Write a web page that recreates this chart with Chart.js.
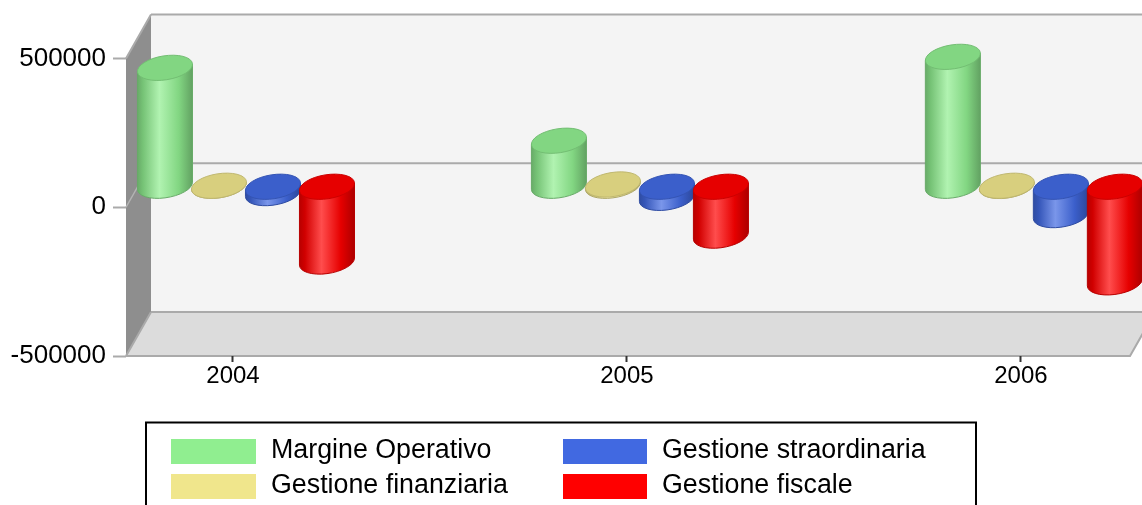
<!DOCTYPE html>
<html><head><meta charset="utf-8">
<style>html,body{margin:0;padding:0;background:#fff;overflow:hidden}canvas{display:block}</style>
<script src="https://cdn.jsdelivr.net/npm/chart.js@4"></script></head>
<body><canvas id="c" width="1142" height="505"></canvas>
<script>
const years = [2004, 2005, 2006];
const yTicks = [-500000, 0, 500000];
const margineOperativo = [398000, 153000, 435000];
const gestioneFinanziaria = [1500, 6000, 1000];
const gestioneStraordinaria = [-23000, -39000, -97000];
const gestioneFiscale = [-253000, -166000, -323000];
const seriesNames = ['Margine Operativo', 'Gestione finanziaria', 'Gestione straordinaria', 'Gestione fiscale'];
const seriesColors = ['#90EE90', '#F0E68C', '#4169E1', '#FF0000'];
const seriesValues = [margineOperativo, gestioneFinanziaria, gestioneStraordinaria, gestioneFiscale];

const DEPTH_X = 25, DEPTH_Y = 44;   // wall depth
const BAR_DX = 13, BAR_DY = -21;    // bars stand mid-depth
const RX = 27.8, RY = 12, TILT = -9*Math.PI/180;
const FONT = '"Liberation Sans", Arial, sans-serif';

function rgb(h){return [1,3,5].map(i=>parseInt(h.substr(i,2),16));}
function shade(h,f){return 'rgb('+rgb(h).map(v=>Math.round(v*f)).join(',')+')';}
function tint(h,f){return 'rgb('+rgb(h).map(v=>Math.round(v+(255-v)*f)).join(',')+')';}

function ellipse(ctx,x,y){ctx.beginPath();ctx.ellipse(x,y,RX,RY,TILT,0,Math.PI*2);}

function cylinder(ctx,bar,color){
  const x=bar.x+BAR_DX, a=Math.min(bar.y,bar.base)+BAR_DY, b=Math.max(bar.y,bar.base)+BAR_DY;
  const tR=Math.atan2(-RY*Math.sin(TILT),RX*Math.cos(TILT));
  const w=RX*Math.cos(tR)*Math.cos(TILT)-RY*Math.sin(tR)*Math.sin(TILT);
  const h=RX*Math.cos(tR)*Math.sin(TILT)+RY*Math.sin(tR)*Math.cos(TILT);
  const g=ctx.createLinearGradient(x-w,0,x+w,0);
  g.addColorStop(0,shade(color,.72));
  g.addColorStop(.1,shade(color,.82));
  g.addColorStop(.4,tint(color,.3));
  g.addColorStop(.75,shade(color,.9));
  g.addColorStop(1,shade(color,.68));
  ctx.beginPath();
  ctx.moveTo(x+w,a+h);
  ctx.lineTo(x+w,b+h);
  ctx.ellipse(x,b,RX,RY,TILT,tR,tR+Math.PI);
  ctx.lineTo(x-w,a-h);
  ctx.closePath();
  ctx.fillStyle=g;ctx.fill();
  ctx.strokeStyle=shade(color,.72);ctx.lineWidth=1;ctx.stroke();
  ellipse(ctx,x,a);
  ctx.fillStyle=shade(color,.9);ctx.fill();
  ctx.strokeStyle=shade(color,.8);ctx.stroke();
}

const scene = {
  id:'scene',
  beforeDraw(chart){
    const {ctx,chartArea:ca,scales:{y}}=chart, l=ca.left, r=ca.right, t=ca.top, b=ca.bottom;
    ctx.save();
    ctx.fillStyle='#f4f4f4';ctx.fillRect(l+DEPTH_X,t-DEPTH_Y,r-l,b-t);
    ctx.fillStyle='#8e8e8e';ctx.beginPath();ctx.moveTo(l,t);ctx.lineTo(l+DEPTH_X,t-DEPTH_Y);ctx.lineTo(l+DEPTH_X,b-DEPTH_Y);ctx.lineTo(l,b);ctx.closePath();ctx.fill();
    ctx.fillStyle='#dcdcdc';ctx.beginPath();ctx.moveTo(l,b);ctx.lineTo(l+DEPTH_X,b-DEPTH_Y);ctx.lineTo(r+DEPTH_X,b-DEPTH_Y);ctx.lineTo(r,b);ctx.closePath();ctx.fill();
    ctx.strokeStyle='#aaaaaa';ctx.lineWidth=2;
    const z=y.getPixelForValue(0);
    ctx.beginPath();
    ctx.moveTo(l+DEPTH_X,t-DEPTH_Y);ctx.lineTo(r+DEPTH_X,t-DEPTH_Y);
    ctx.moveTo(l+DEPTH_X,z-DEPTH_Y);ctx.lineTo(r+DEPTH_X,z-DEPTH_Y);
    ctx.moveTo(l+DEPTH_X,b-DEPTH_Y);ctx.lineTo(r+DEPTH_X,b-DEPTH_Y);
    ctx.moveTo(l,b);ctx.lineTo(r,b);ctx.lineTo(r+DEPTH_X,b-DEPTH_Y);
    ctx.moveTo(l,b);ctx.lineTo(l+DEPTH_X,b-DEPTH_Y);
    ctx.moveTo(l,t);ctx.lineTo(l+DEPTH_X,t-DEPTH_Y);
    ctx.stroke();
    ctx.strokeStyle='#b4b4b4';ctx.lineWidth=1.5;
    ctx.beginPath();ctx.moveTo(l,z);ctx.lineTo(l+DEPTH_X,z-DEPTH_Y);ctx.stroke();
    ctx.restore();
  },
  beforeDatasetsDraw(chart){
    const ctx=chart.ctx;ctx.save();
    chart.data.datasets.forEach((ds,i)=>{
      chart.getDatasetMeta(i).data.forEach(bar=>cylinder(ctx,bar,seriesColors[i]));
    });
    ctx.restore();
  },
  beforeDatasetDraw(){return false;},
  afterDraw(chart){
    const ctx=chart.ctx;ctx.save();
    ctx.strokeStyle='#000';ctx.lineWidth=2;
    ctx.strokeRect(146,422.5,830,100);
    const cols=[171,563], rows=[439,474];
    ctx.font='26.8px '+FONT;ctx.textBaseline='middle';ctx.textAlign='left';
    chart.data.datasets.forEach((ds,i)=>{
      const c=Math.floor(i/2), r=i%2, sx=cols[c], sy=rows[r];
      ctx.fillStyle=ds.backgroundColor;ctx.fillRect(sx,sy,c?84:85,25);
      ctx.fillStyle='#000';ctx.fillText(ds.label,sx+(c?99:100),sy+11.5);
    });
    ctx.restore();
  }
};

new Chart(document.getElementById('c'),{
  type:'bar',
  data:{datasets:seriesNames.map((label,i)=>({
    label,backgroundColor:seriesColors[i],barThickness:54,
    data:years.map((x,j)=>({x,y:seriesValues[i][j]}))
  }))},
  options:{
    responsive:false,animation:false,devicePixelRatio:1,
    layout:{padding:{top:58.5,right:12,left:0,bottom:0}},
    plugins:{legend:{display:false},tooltip:{enabled:false},title:{display:false}},
    scales:{
      x:{type:'linear',offset:false,min:2004-107/394,max:2006+277/1000,
        afterBuildTicks(s){s.ticks=years.map(value=>({value}));},
        afterFit(s){s.height=149;},
        border:{display:false},
        grid:{display:true,drawOnChartArea:false,offset:false,tickLength:6,tickColor:'#333333',tickWidth:2},
        ticks:{color:'#000',autoSkip:false,maxRotation:0,padding:0,font:{family:FONT,size:24},callback:v=>String(v)}},
      y:{type:'linear',min:-500000,max:500000,
        afterBuildTicks(s){s.ticks=yTicks.map(value=>({value}));},
        afterFit(s){s.width=126;},
        border:{display:false},
        grid:{display:true,drawOnChartArea:false,tickLength:13,tickColor:'#aaaaaa',tickWidth:2},
        ticks:{color:'#000',padding:7,font:{family:FONT,size:26},callback:v=>String(v)}}
    }
  },
  plugins:[scene]
});
</script></body></html>
